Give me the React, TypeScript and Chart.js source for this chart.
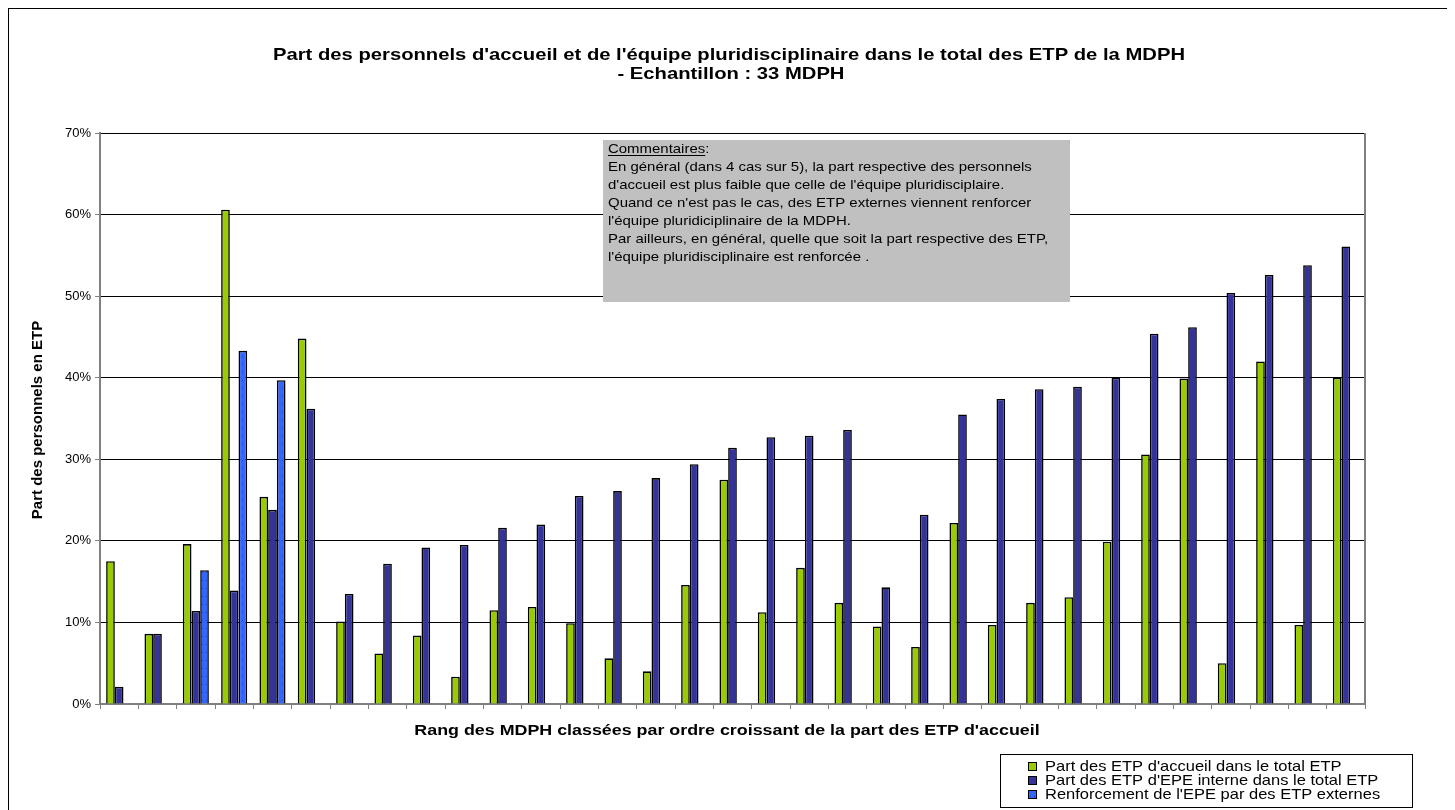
import React, { useEffect, useRef } from "react";
import { Chart, registerables } from "chart.js";

Chart.register(...registerables);

const categories = ["1","2","3","4","5","6","7","8","9","10","11","12","13","14","15","16","17","18","19","20","21","22","23","24","25","26","27","28","29","30","31","32","33"];

const accueil = [17.5, 8.6, 19.6, 60.6, 25.4, 44.8, 10.1, 6.2, 8.4, 3.35, 11.5, 11.9, 9.9, 5.6, 4.0, 14.6, 27.5, 11.25, 16.7, 12.4, 9.5, 7.0, 22.2, 9.7, 12.4, 13.1, 19.9, 30.6, 39.9, 5.0, 42.0, 9.7, 40.0];

const epeInterne = [2.1, 8.6, 11.4, 13.9, 23.8, 36.2, 13.5, 17.2, 19.2, 19.5, 21.6, 22.0, 25.5, 26.1, 27.7, 29.4, 31.4, 32.7, 32.9, 33.6, 14.3, 23.2, 35.5, 37.4, 38.6, 38.9, 40.0, 45.4, 46.2, 50.4, 52.6, 53.8, 56.1];

const epeExterne = [null, null, 16.4, 43.3, 39.7, null, null, null, null, null, null, null, null, null, null, null, null, null, null, null, null, null, null, null, null, null, null, null, null, null, null, null, null];

const seriesNames = [
  "Part des ETP d'accueil dans le total ETP",
  "Part des ETP d'EPE interne dans le total ETP",
  "Renforcement de l'EPE par des ETP externes",
];

const yTicks = [0, 10, 20, 30, 40, 50, 60, 70];

const titleLines = [
  "Part des personnels d'accueil et de l'équipe pluridisciplinaire dans le total des ETP de la MDPH",
  "- Echantillon : 33 MDPH",
];
const yTitle = "Part des personnels en ETP";
const xTitle = "Rang des MDPH classées par ordre croissant de la part des ETP d'accueil";
const commentHead = "Commentaires";
const commentLines = [
  "En général (dans 4 cas sur 5), la part respective des personnels",
  "d'accueil est plus faible que celle de l'équipe pluridisciplaire.",
  "Quand ce n'est pas le cas, des ETP externes viennent renforcer",
  "l'équipe pluridiciplinaire de la MDPH.",
  "Par ailleurs, en général, quelle que soit la part respective des ETP,",
  "l'équipe pluridisciplinaire est renforcée .",
];

const FONT = '"Liberation Sans", Arial, Helvetica, sans-serif';
const GREEN = "#99CC00";
const NAVY = "#333399";
const BLUE = "#3366FF";

function makePattern(): CanvasPattern | string {
  const c = document.createElement("canvas");
  c.width = 4;
  c.height = 8;
  const g = c.getContext("2d");
  if (!g) return BLUE;
  g.fillStyle = BLUE;
  g.fillRect(0, 0, 4, 8);
  g.fillStyle = "#1c46c8";
  g.fillRect(1, 3, 1, 1);
  return g.createPattern(c, "repeat") || BLUE;
}

function stretchText(ctx: CanvasRenderingContext2D, text: string, x: number, y: number, sx: number, align: "left" | "center") {
  const w = ctx.measureText(text).width * sx;
  const left = align === "center" ? x - w / 2 : x;
  ctx.save();
  ctx.translate(left, y);
  ctx.scale(sx, 1);
  ctx.textAlign = "left";
  ctx.fillText(text, 0, 0);
  ctx.restore();
  return w;
}

const textPlugin = {
  id: "textPlugin",
  beforeDraw(chart: any) {
    const ctx = chart.ctx;
    ctx.save();
    ctx.fillStyle = "#fff";
    ctx.fillRect(0, 0, chart.width, chart.height);
    ctx.restore();
  },
  afterDatasetsDraw(chart: any) {
    const ctx = chart.ctx;
    const { right, top, bottom } = chart.chartArea;
    ctx.save();
    ctx.strokeStyle = "#808080";
    ctx.lineWidth = 2;
    ctx.beginPath();
    ctx.moveTo(right, top);
    ctx.lineTo(right, bottom);
    ctx.stroke();
    const bx = 594, by = 131, bw = 467, bh = 162;
    ctx.fillStyle = "#C0C0C0";
    ctx.fillRect(bx, by, bw, bh);
    ctx.fillStyle = "#000";
    ctx.font = `13px ${FONT}`;
    ctx.textBaseline = "middle";
    const sx = 1.15;
    const tx = bx + 5;
    let ty = by + 9;
    const hw = stretchText(ctx, commentHead, tx, ty, sx, "left");
    stretchText(ctx, ":", tx + hw, ty, sx, "left");
    ctx.fillRect(tx, ty + 6, hw, 1);
    for (const line of commentLines) {
      ty += 18;
      stretchText(ctx, line, tx, ty, sx, "left");
    }
    ctx.restore();
  },
  afterDraw(chart: any) {
    const ctx = chart.ctx;
    ctx.save();
    ctx.fillStyle = "#000";
    ctx.textBaseline = "middle";
    ctx.font = `bold 17px ${FONT}`;
    const tw = ctx.measureText(titleLines[0]).width;
    const tsx = 912 / tw;
    stretchText(ctx, titleLines[0], 720, 46, tsx, "center");
    stretchText(ctx, titleLines[1], 722, 65, tsx, "center");

    ctx.font = `bold 15px ${FONT}`;
    stretchText(ctx, xTitle, 718, 722, 1.19, "center");

    ctx.save();
    ctx.translate(29, 411);
    ctx.rotate(-Math.PI / 2);
    ctx.textAlign = "center";
    ctx.fillText(yTitle, 0, 0);
    ctx.restore();

    const lx = 991, ly = 745, lw = 412, lh = 53;
    ctx.strokeStyle = "#000";
    ctx.lineWidth = 1;
    ctx.strokeRect(lx + 0.5, ly + 0.5, lw, lh);
    ctx.font = `15px ${FONT}`;
    const ds = chart.data.datasets;
    for (let i = 0; i < ds.length; i++) {
      const cy = ly + 12 + i * 14;
      ctx.fillStyle = ds[i].backgroundColor;
      ctx.fillRect(lx + 28, cy - 4, 8, 8);
      ctx.strokeStyle = "#000";
      ctx.strokeRect(lx + 28.5, cy - 3.5, 8, 8);
      ctx.fillStyle = "#000";
      stretchText(ctx, ds[i].label, lx + 45, cy + 1, 1.1, "left");
    }
    ctx.restore();
  },
};

export default function App() {
  const ref = useRef<HTMLCanvasElement | null>(null);
  useEffect(() => {
    if (!ref.current) return;
    const chart = new Chart(ref.current, {
      type: "bar",
      data: {
        labels: categories,
        datasets: [
          { label: seriesNames[0], data: accueil, backgroundColor: GREEN, borderColor: "#000", borderWidth: 1.6 },
          { label: seriesNames[1], data: epeInterne, backgroundColor: NAVY, borderColor: "#000", borderWidth: 1.6 },
          { label: seriesNames[2], data: epeExterne as any, backgroundColor: makePattern() as any, borderColor: "#000", borderWidth: 1.6 },
        ],
      },
      options: {
        responsive: false,
        animation: false,
        events: [],
        layout: { padding: { left: 31, right: 84, top: 124, bottom: 115 } },
        datasets: { bar: { categoryPercentage: 0.68, barPercentage: 1.0 } },
        plugins: { legend: { display: false }, title: { display: false }, tooltip: { enabled: false } },
        scales: {
          x: {
            offset: true,
            grid: { offset: true, drawOnChartArea: false, drawTicks: true, tickLength: 5, color: "#808080", tickColor: "#808080", lineWidth: 1 },
            border: { display: true, color: "#808080", width: 2 },
            ticks: { display: false },
            afterFit: (s: any) => { s.height = 10; },
          },
          y: {
            min: 0,
            max: 70,
            afterBuildTicks: (s: any) => { s.ticks = yTicks.map((v) => ({ value: v })); },
            grid: {
              color: (c: any) => (c.tick && c.tick.value === 0 ? "#808080" : "#000"),
              tickColor: "#808080",
              tickLength: 5,
              lineWidth: 1,
            },
            border: { display: true, color: "#808080", width: 2 },
            ticks: {
              color: "#000",
              font: { family: FONT, size: 13 },
              padding: 4,
              callback: (v: any) => `${v}%`,
            },
            afterFit: (s: any) => { s.width = 60; },
          },
        },
      },
      plugins: [textPlugin],
    });
    return () => chart.destroy();
  }, []);
  return (
    <div style={{ width: 1440, height: 820, border: "1px solid #000", position: "relative" }}>
      <canvas ref={ref} width={1440} height={820} style={{ display: "block" }} />
    </div>
  );
}
